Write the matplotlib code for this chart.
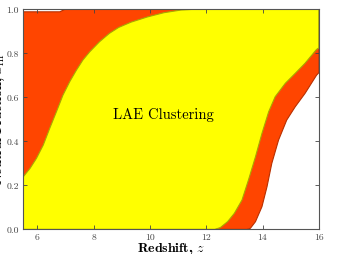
#!/usr/bin/python3

import matplotlib
matplotlib.use("Agg")
import matplotlib.pyplot as plt

# yellow band (LAE clustering), upper edge: left curve
yel_up_z = [5.5, 5.74, 5.97, 6.21, 6.44, 6.68, 6.91, 7.15, 7.39, 7.62, 7.86, 8.21, 8.56, 8.89,
            9.33, 9.92, 10.5, 11.1, 11.5, 16.0]
yel_up_x = [0.239, 0.277, 0.323, 0.383, 0.459, 0.535, 0.610, 0.671, 0.724, 0.770, 0.807, 0.853, 0.891, 0.918,
            0.942, 0.966, 0.985, 0.997, 1.0, 1.0]

# yellow band, lower edge: right curve
yel_lo_z = [5.5, 12.3, 12.5, 12.76, 13.0, 13.27, 13.5, 13.75, 13.98, 14.22, 14.45, 14.81, 15.16, 15.51, 15.92, 16.0]
yel_lo_x = [0.0, 0.0, 0.008, 0.035, 0.073, 0.133, 0.224, 0.33, 0.436, 0.535, 0.603, 0.664, 0.709, 0.755, 0.818, 0.825]

# red band, upper edge
red_up_z = [5.5, 6.8, 6.97, 16.0]
red_up_x = [0.989, 0.989, 1.0, 1.0]

# red band, lower edge
red_lo_z = [5.5, 13.3, 13.45, 13.57, 13.75, 13.98, 14.16, 14.33, 14.57, 14.86, 15.16, 15.51, 15.92, 16.0]
red_lo_x = [0.0, 0.0, 0.0, 0.005, 0.035, 0.103, 0.194, 0.30, 0.406, 0.497, 0.557, 0.618, 0.701, 0.712]

xticks = [6, 8, 10, 12, 14, 16]
yticks = [0.0, 0.2, 0.4, 0.6, 0.8, 1.0]

#_____________________________________________________________________________
def band(ax, zu, xu, zl, xl, fc, ec):

    zz = list(zu) + list(zl)[::-1]
    xx = list(xu) + list(xl)[::-1]
    ax.fill(zz, xx, facecolor=fc, edgecolor=ec, lw=0.8)

#band

#_____________________________________________________________________________
def main():

    plt.rcParams["font.family"] = "serif"
    plt.rcParams["font.serif"] = ["cmr10"]
    plt.rcParams["mathtext.fontset"] = "cm"
    plt.rcParams["axes.formatter.use_mathtext"] = True

    fig = plt.figure(figsize=(3.37, 2.54), dpi=100)
    ax = fig.add_axes([0.069, 0.097, 0.877, 0.866])

    band(ax, red_up_z, red_up_x, red_lo_z, red_lo_x, "#ff4500", "#b83000")
    band(ax, yel_up_z, yel_up_x, yel_lo_z, yel_lo_x, "#ffff00", "#a8a800")

    ax.text(10.47, 0.52, "LAE Clustering", fontsize=10.5, ha="center", va="center", color="black")

    ax.set_xlim(5.5, 16)
    ax.set_ylim(0, 1)
    ax.set_xticks(xticks)
    ax.set_yticks(yticks)
    ax.set_xticklabels([str(t) for t in xticks])
    ax.set_yticklabels(["%.1f" % t for t in yticks])
    ax.tick_params(direction="in", top=True, right=True, labelsize=7, length=3, width=0.6, colors="#444444", pad=3)
    for s in ax.spines.values():
        s.set_color("#555555")
        s.set_linewidth(0.8)

    ax.set_xlabel(r"Redshift, $z$", fontsize=10, family="cmb10")
    ax.xaxis.set_label_coords(0.5, -0.052)

    # y label sits mostly off the left edge, as in the original
    fig.text(7.0 / 337, 0.53, r"Neutral Fraction, $x_{\rm HI}$", fontsize=10, family="cmb10",
             rotation=90, ha="right", va="center")

    fig.savefig("out.png", dpi=100)
    plt.close()

#main

#_____________________________________________________________________________
if __name__ == "__main__":

    main()
